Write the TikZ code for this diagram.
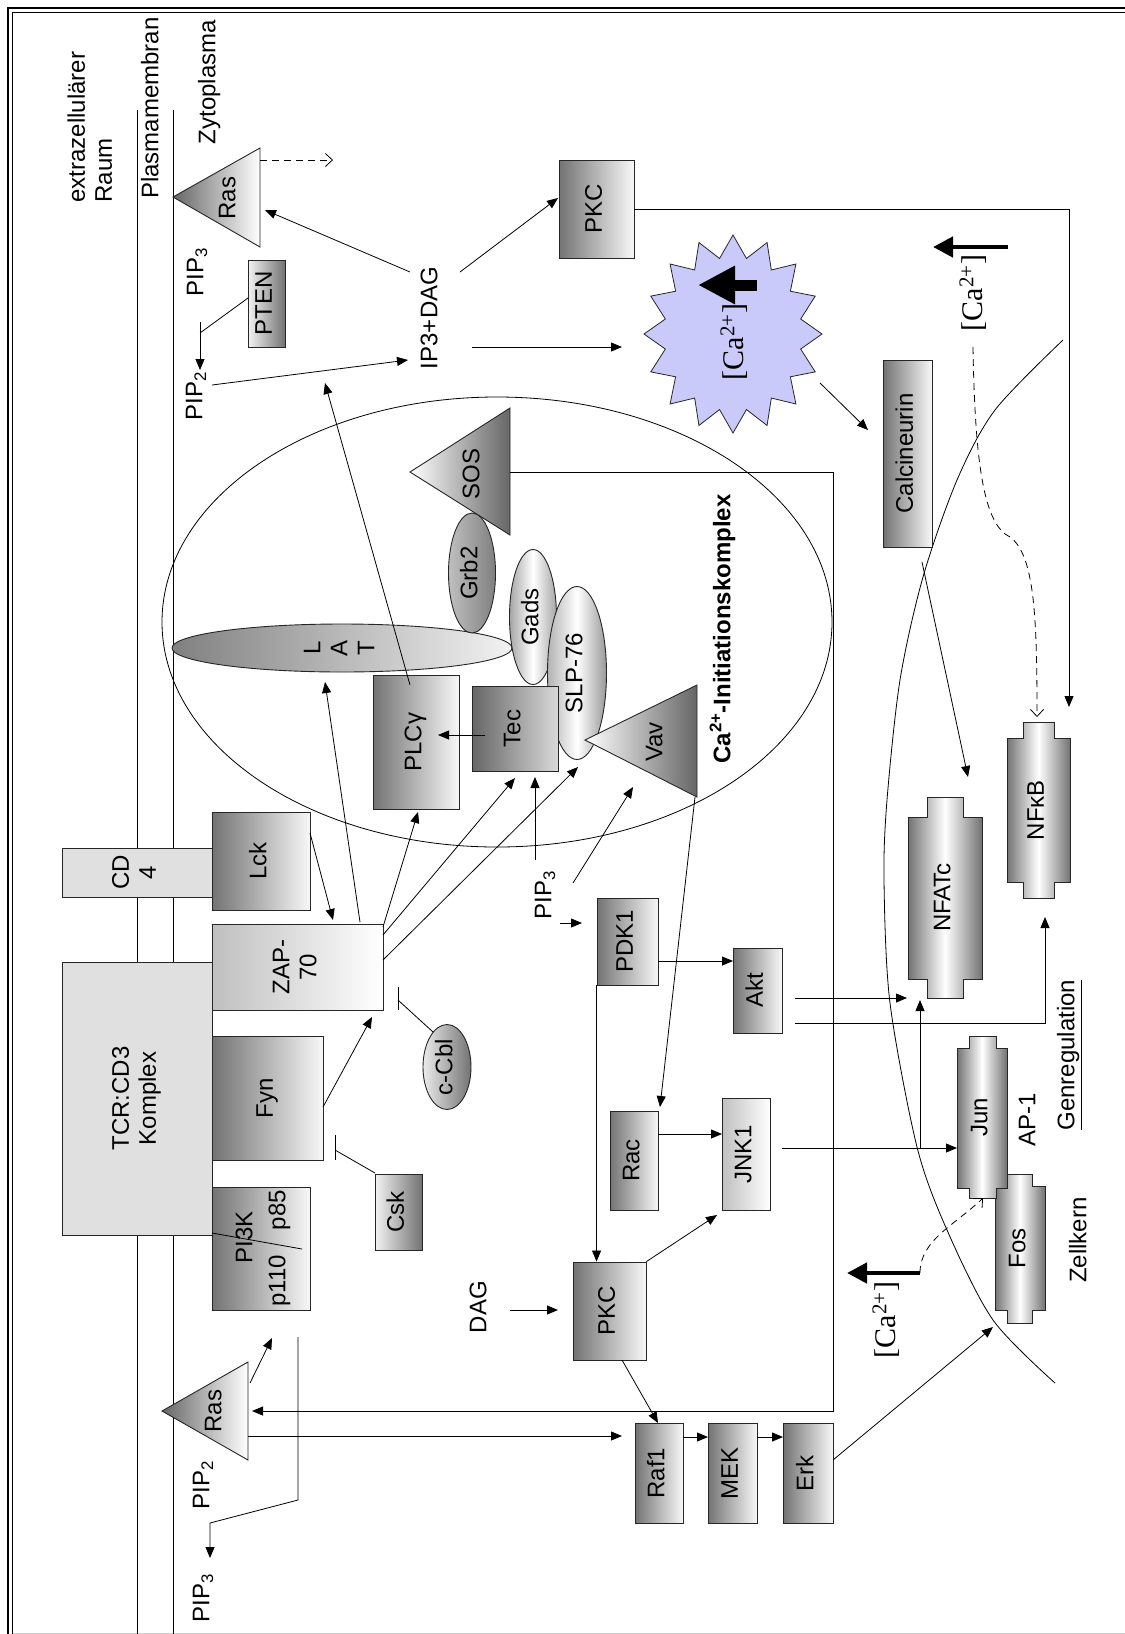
\documentclass[tikz,border=0pt]{standalone}
\usepackage{graphicx}
\usepackage{fontspec}
\setmainfont{Liberation Sans}
\newfontfamily\caserif{Liberation Serif}
\usetikzlibrary{arrows.meta,calc,shapes.geometric}
% rotated (bottom-to-top) labels
\newcommand\rlab[1]{\rotatebox{90}{\begin{tabular}{@{}c@{}}#1\end{tabular}}}
\newcommand\rlabl[1]{\rotatebox{90}{\begin{tabular}{@{}l@{}}#1\end{tabular}}}
% transcription-factor outline: body x1 x2 y1 y2, knob k1 k2, knob tips ytop ybot
\newcommand\tfpath[8]{\path[draw=black!85, line width=0.9pt, cyl] (#1,#3) -- (#5,#3) -- (#5,#7) -- (#6,#7) -- (#6,#3) -- (#2,#3) -- (#2,#4) -- (#6,#4) -- (#6,#8) -- (#5,#8) -- (#5,#4) -- (#1,#4) -- cycle;}
\newcommand\calev{{\caserif\fontsize{30}{32}\selectfont[Ca\textsuperscript{2+}]}}
\definecolor{starblue}{RGB}{202,202,250}
\begin{document}
\begin{tikzpicture}[x=1pt,y=-1pt, font=\fontsize{24}{27}\selectfont,
  box/.style={draw=black!85, line width=0.9pt, inner sep=0pt},
  dl/.style={box, left color=black!55, right color=black!3},
  dr/.style={box, left color=black!5, right color=black!55},
  lt/.style={box, left color=black!25, right color=white},
  cyl/.style={left color=black!55, right color=black!55, middle color=white},
  speck/.style={box, fill=black!12},
  lab/.style={inner sep=0pt},
  arr/.style={line width=0.8pt, -{Triangle[length=11pt,width=9pt]}},
  barb/.style={-{Straight Barb[length=7pt,width=13pt]}},
  ln/.style={line width=0.8pt},
  dsh/.style={line width=0.8pt, dash pattern=on 7pt off 5pt},
]
\fill[white] (0,0) rectangle (1125,1634);
\useasboundingbox (0,0) rectangle (1125,1634);

% frame
\draw[line width=1.3pt] (8,1634) -- (8,8) -- (1125,8);
\draw[line width=1.3pt] (12.5,1634) -- (12.5,12.5) -- (1125,12.5);
\draw[black!20, line width=1pt] (13,1633) -- (1125,1633);

% plasma membrane
\draw[line width=0.9pt] (137,110) -- (137,1634);
\draw[line width=0.9pt] (173,110) -- (173,1634);

% nuclear envelope
\draw[line width=0.8pt] plot[smooth] coordinates {(1063,340) (995,410) (957,480) (923,577) (900,680) (887,800) (884,880) (890,1003) (917,1147) (947,1230) (993,1320) (1055,1383)};

% initiation complex
\node[draw, ellipse, line width=0.8pt, minimum width=670, minimum height=450, inner sep=0pt] (cplx) at (497,622) {};

% region labels
\node[lab] (ext) at (93,127) {\rlabl{extrazellulärer\\Raum}};
\node[lab] (plasma) at (153,108) {\rlab{Plasmamembran}};
\node[lab] (zyto) at (210,82) {\rlab{Zytoplasma}};

% receptor complexes
\node[speck, minimum width=150, minimum height=49] (cd4) at (137,872.5) {\rlab{CD\\4}};
\node[speck, minimum width=150, minimum height=273] (tcr) at (137,1098.5) {\rlab{TCR:CD3\\Komplex}};

% kinases and adaptors
\node[dl, minimum width=98, minimum height=98] (lck) at (261,861) {\rlab{Lck}};
\node[lt, minimum width=171, minimum height=86] (zap) at (297.5,967) {\rlab{ZAP-\\70}};
\node[dl, minimum width=111, minimum height=124] (fyn) at (267.5,1098) {\rlab{Fyn}};
\node[dl, minimum width=98, minimum height=123] (pi3k) at (261,1248.5) {};
\node[lab] (pi3kA) at (247,1237) {\rlab{PI3K}};
\node[lab] (pi3kB) at (280,1281) {\rlab{p110}};
\node[lab] (pi3kC) at (280,1210) {\rlab{p85}};
\draw[ln] ($(pi3k)+(-49,-15.5)$) -- ($(pi3k)+(41,0.5)$);
\node[dr, minimum width=47, minimum height=76] (csk) at (398.5,1212) {\rlab{Csk}};
\node[ellipse, box, left color=black!8, right color=black!55, minimum width=48, minimum height=85] (ccbl) at (447,1067) {\rlab{c-Cbl}};

\node[ellipse, box, left color=black!50, right color=black!5, minimum width=340, minimum height=48] (lat) at (342,648) {\rlab{L\\A\\T}};
\node[ellipse, box, left color=black!25, right color=black!50, minimum width=47, minimum height=120] (grb2) at (472,573) {\rlab{Grb2}};
\node[ellipse, box, left color=black!35, right color=black!35, middle color=white, minimum width=47, minimum height=135] (gads) at (533,617) {\rlab{Gads}};
\node[ellipse, box, left color=black!30, right color=black!40, middle color=white, minimum width=59, minimum height=173] (slp) at (577,673) {\rlab{SLP-76}};
\node[dl, minimum width=86, minimum height=134] (plcg) at (416,742) {\rlab{PLCγ}};
\node[box, left color=black!60, right color=black!15, minimum width=86, minimum height=85] (tec) at (515,728.5) {\rlab{Tec}};

% triangles: Ras (membrane), SOS, Vav, Ras (lower)
\path[draw=black!85, line width=0.9pt, left color=black!60, right color=white] (173,197) -- (260,148) -- (260,247) -- cycle;
\node[lab] (rasT) at (230,198) {\rlab{Ras}};
\path[draw=black!85, line width=0.9pt, left color=white, right color=black!60] (410,472) -- (510,408) -- (510,535) -- cycle;
\node[lab] (sos) at (474,474) {\rlab{SOS}};
\path[draw=black!85, line width=0.9pt, left color=white, right color=black!60] (585,740) -- (697,685) -- (697,797) -- cycle;
\node[lab] (vav) at (657,742) {\rlab{Vav}};
\path[draw=black!85, line width=0.9pt, left color=black!60, right color=white] (162,1411) -- (248,1362) -- (248,1460) -- cycle;
\node[lab] (rasB) at (216,1411) {\rlab{Ras}};

% upper part: PTEN, PKC, calcium
\node[dr, minimum width=37, minimum height=87] (pten) at (266.5,303.5) {\rlab{PTEN}};
\node[dl, minimum width=75, minimum height=98] (pkcT) at (596.5,209) {\rlab{PKC}};
\node[dl, minimum width=49, minimum height=187] (calcin) at (907.5,453.5) {\rlab{Calcineurin}};
\coordinate (star) at (733,334);
\path[draw=black!85, line width=0.8pt, fill=starblue] plot[variable=\i, samples at={0,...,31}] ({733+ifthenelse(mod(\i,2)==0,89,69)*cos(\i*11.25)}, {334-ifthenelse(mod(\i,2)==0,99,77)*sin(\i*11.25)}) -- cycle;

% lower cytoplasm kinases
\node[dl, minimum width=61, minimum height=87] (pdk1) at (627.5,941.5) {\rlab{PDK1}};
\node[dl, minimum width=49, minimum height=85] (akt) at (757.5,990.5) {\rlab{Akt}};
\node[dl, minimum width=48, minimum height=99] (rac) at (634,1160.5) {\rlab{Rac}};
\node[lt, minimum width=48, minimum height=112] (jnk1) at (746,1154) {\rlab{JNK1}};
\node[dl, minimum width=73, minimum height=98] (pkcB) at (609.5,1311) {\rlab{PKC}};
\node[dl, minimum width=48, minimum height=100] (raf1) at (659,1473) {\rlab{Raf1}};
\node[dl, minimum width=49, minimum height=100] (mek) at (732.5,1473) {\rlab{MEK}};
\node[dl, minimum width=50, minimum height=100] (erk) at (808,1473) {\rlab{Erk}};

% transcription factors
\tfpath{908}{982}{817}{979}{927}{963}{797}{998}
\node[lab, minimum width=74, minimum height=201] (nfatc) at (945,897.5) {\rlab{NFATc}};
\tfpath{1007}{1070}{738}{882}{1023}{1054}{722}{898}
\node[lab, minimum width=63, minimum height=176] (nfkb) at (1038.5,810) {\rlab{NFκB}};
\tfpath{995}{1045}{1186}{1310}{1007}{1032}{1174}{1323}
\node[lab, minimum width=50, minimum height=149] (fos) at (1020,1248.5) {\rlab{Fos}};
\tfpath{957}{1007}{1048}{1188}{969}{996}{1036}{1198}
\node[lab, minimum width=50, minimum height=162] (jun) at (982,1117) {\rlab{Jun}};

% free labels
\node[lab] (pip3T) at (198,272) {\rlab{PIP\textsubscript{3}}};
\node[lab] (pip2T) at (197,396) {\rlab{PIP\textsubscript{2}}};
\node[lab] (ip3) at (432,318) {\rlab{IP3+DAG}};
\node[lab] (pip3M) at (546,895) {\rlab{PIP\textsubscript{3}}};
\node[lab] (dag) at (481,1307) {\rlab{DAG}};
\node[lab] (pip2B) at (204,1485) {\rlab{PIP\textsubscript{2}}};
\node[lab] (pip3B) at (204,1598) {\rlab{PIP\textsubscript{3}}};
\node[lab] (cai) at (724,629) {\rlab{\bfseries Ca\textsuperscript{2+}-Initiationskomplex}};
\node[lab] (ap1) at (1030,1120) {\rlab{AP-1}};
\node[lab] (genreg) at (1069,1055) {\rlab{\underline{Genregulation}}};
\node[lab] (zell) at (1081,1240) {\rlab{Zellkern}};
\node[lab] (caS) at (736,342) {\rlab{\calev}};
\node[lab] (caR) at (975,293) {\rlab{\calev}};
\node[lab] (caL) at (888,1320) {\rlab{\calev}};

% calcium rise arrows
\draw[line width=11pt, -{Triangle[length=37pt,width=36pt]}] ($(caS)+(21,-57)$) -- ($(caS)+(-38,-57)$);
\draw[line width=4.5pt, -{Triangle[length=20pt,width=20pt]}] ($(caR)+(33,-46)$) -- ($(caR)+(-42,-46)$);
\draw[line width=4.5pt, -{Triangle[length=20pt,width=20pt]}] ($(caL)+(32,-47)$) -- ($(caL)+(-41,-47)$);

% connectors: membrane / second messengers
\draw[arr] ($(ip3)+(-22,-46)$) -- ($(rasT)+(35,12)$);
\draw[arr] ($(ip3)+(28,-46)$) -- ($(pkcT)+(-38.5,-11)$);
\draw[arr] ($(ip3)+(40,29)$) -- ($(star)+(-111,13)$);
\draw[arr] ($(pip2T)+(15,-11)$) -- ($(ip3)+(-24,42)$);
\draw[arr] ($(plcg)+(-6,-57)$) -- ($(ip3)+(-107,65)$);
\coordinate (rasOut) at ($(rasT)+(103,-38)$);
\draw[dsh, barb] ($(rasT)+(30,-38)$) -- (rasOut);
\draw[arr] ($(pip3T)+(2,50)$) -- ($(pip2T)+(3,-26)$);
\draw[ln] ($(pten)+(-18.5,-5.5)$) -- ($(pip3T)+(2,61)$);
\draw[arr] (pkcT.east) -| ($(nfkb)+(30.5,-103)$);
\draw[arr] ($(star)+(87,49)$) -- ($(calcin)+(-39.5,-23.5)$);
\draw[arr] ($(calcin)+(14.5,108.5)$) -- ($(nfatc)+(23,-120.5)$);
\draw[dsh, barb] ($(caR)+(-2,54)$) .. controls (975,470) and (985,525) .. (1010,537) .. controls (1035,555) and (1037,620) .. ($(nfkb)+(-1.5,-93)$);

% connectors: complex
\draw[arr] ($(sos)+(36,-2)$) -- ++(323,0) |- ($(rasB)+(36,0)$);
\draw[arr] ($(lck)+(49,-28)$) -- ($(zap)+(35.5,-47)$);
\draw[arr] ($(zap)+(62.5,-45)$) -- ($(lat)+(-17,34)$);
\draw[arr] ($(zap)+(85.5,-40)$) -- ($(plcg)+(2,70)$);
\draw[arr] ($(zap)+(85.5,-32)$) -- ($(tec)+(0,49.5)$);
\draw[arr] ($(zap)+(85.5,-7)$) -- ($(slp)+(1,94)$);
\draw[arr] ($(fyn)+(55.5,9)$) -- ($(zap)+(74.5,50)$);
\draw[ln] ($(csk)+(-23.5,-39)$) -- ($(fyn)+(67.5,52)$);
\draw[ln] ($(fyn)+(67.5,37)$) -- ($(fyn)+(67.5,62)$);
\draw[ln] ($(ccbl)+(-14,-35)$) -- ($(zap)+(100.5,33)$);
\draw[ln] ($(zap)+(100.5,20)$) -- ($(zap)+(100.5,43)$);
\draw[arr] ($(tec)+(-30,6.5)$) -- ($(plcg)+(22,-7)$);

% connectors: PI3K / Ras / MAPK
\draw[arr] ($(rasB)+(32,25)$) -- ($(raf1)+(-37,-37)$);
\draw[arr] ($(rasB)+(34,-28)$) -- ($(pi3k)+(11,89.5)$);
\draw[arr] ($(pi3k)+(37,88.5)$) -- ++(0,163) -- ($(pip3B)+(6,-75)$) -- ($(pip3B)+(6,-40)$);
\draw[arr] ($(raf1)+(24,-36)$) -- ($(mek)+(-24.5,-36)$);
\draw[arr] ($(mek)+(24.5,-36)$) -- ($(erk)+(-25,-36)$);
\draw[arr] ($(erk)+(25,-13)$) -- ($(fos)+(-27,78.5)$);
\draw[arr] ($(pkcB)+(12.5,49)$) -- ($(raf1)+(-1,-50)$);
\draw[arr] (pkcB.north east) -- ($(jnk1)+(-29,61)$);
\draw[arr] ($(dag)+(29,3)$) -- ($(pkcB)+(-51.5,-1)$);
\draw[arr] (pdk1.south west) -- (pdk1.south west |- pkcB.north);
\draw[arr] ($(pdk1)+(30.5,19.5)$) -- ($(akt)+(-24.5,-29.5)$);
\draw[arr] ($(pip3M)+(14,28)$) -- ($(pdk1)+(-45.5,-18.5)$);
\draw[arr] ($(pip3M)+(-11,-35)$) -- ($(tec)+(20,48.5)$);
\draw[arr] ($(pip3M)+(27,-12)$) -- ($(vav)+(-24,45)$);
\draw[arr] ($(vav)+(38,55)$) -- ($(rac)+(26,-53.5)$);
\draw[arr] ($(rac)+(24,-26.5)$) -- ($(jnk1)+(-24,-20)$);
\draw[arr] ($(jnk1)+(36,-6)$) -- ($(jun)+(-25,31)$);
\draw[arr] ($(jun)+(-62,31)$) -- ($(nfatc)+(-25,102.5)$);
\draw[arr] ($(akt)+(37.5,7.5)$) -- ($(nfatc)+(-38,100.5)$);
\draw[arr] ($(akt)+(37.5,32.5)$) -| ($(nfkb)+(6.5,107)$);
\draw[dsh, barb] ($(caL)+(32,-47)$) .. controls (920,1240) and (955,1225) .. ($(jun)+(1,81)$);
\end{tikzpicture}
\end{document}
